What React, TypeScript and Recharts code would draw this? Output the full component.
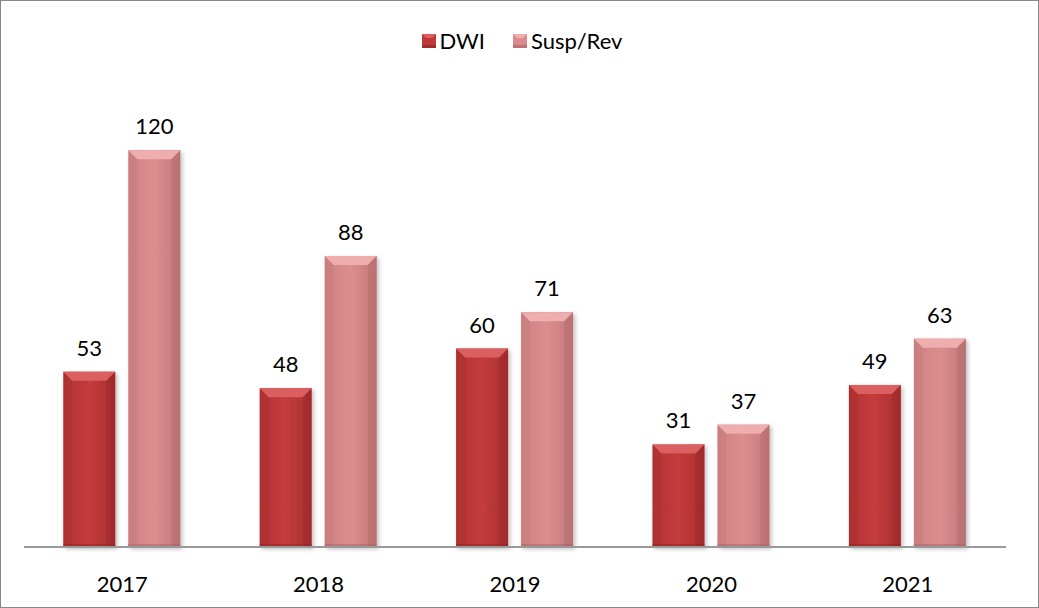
import React from "react";
import { BarChart, Bar, XAxis, YAxis, Legend, LabelList } from "recharts";

const years = ["2017", "2018", "2019", "2020", "2021"];
const dwi = [53, 48, 60, 31, 49];
const suspRev = [120, 88, 71, 37, 63];

const data = years.map((year, i) => ({ year, dwi: dwi[i], suspRev: suspRev[i] }));

const FONT = "Lato, 'Open Sans', sans-serif";

const PALETTE: Record<string, { base: string; light: string; dark: string; id: string }> = {
  dwi: { base: "#c0393a", light: "#dc5f5e", dark: "#8e2424", id: "gDwi" },
  suspRev: { base: "#d98a8c", light: "#eeaeae", dark: "#a86264", id: "gSusp" }
};

function BevelBar(props: any) {
  const { x, y, width, height, dataKey } = props;
  const c = PALETTE[dataKey];
  if (!c || height <= 0) return null;
  const b = Math.min(9, height / 2);
  return (
    <g filter="url(#barShadow)">
      <rect x={x} y={y} width={width} height={height} fill={`url(#${c.id})`} />
      <polygon
        points={`${x},${y} ${x + width},${y} ${x + width - b},${y + b} ${x + b},${y + b}`}
        fill={c.light}
      />
      <polygon
        points={`${x},${y} ${x + b},${y + b} ${x + b},${y + height} ${x},${y + height}`}
        fill={c.dark}
        opacity={0.12}
      />
      <polygon
        points={`${x + width},${y} ${x + width - b},${y + b} ${x + width - b},${y + height} ${x + width},${y + height}`}
        fill={c.dark}
        opacity={0.3}
      />
      <rect x={x} y={y + height - 3} width={width} height={3} fill={c.dark} opacity={0.5} />
    </g>
  );
}

function LegendContent() {
  const items = [
    { label: "DWI", c: PALETTE.dwi },
    { label: "Susp/Rev", c: PALETTE.suspRev }
  ];
  return (
    <div style={{ display: "flex", justifyContent: "center", gap: 28, fontFamily: FONT, fontSize: 22, paddingLeft: 14 }}>
      {items.map((it) => (
        <div key={it.label} style={{ display: "flex", alignItems: "center", gap: 4 }}>
          <svg width={14} height={14}>
            <rect x={0} y={0} width={14} height={14} fill={it.c.base} />
            <polygon points="0,0 14,0 10,4 4,4" fill={it.c.light} />
            <rect x={0} y={11} width={14} height={3} fill={it.c.dark} opacity={0.6} />
          </svg>
          <span style={{ color: "#000" }}>{it.label}</span>
        </div>
      ))}
    </div>
  );
}

export default function App() {
  return (
    <div
      style={{
        position: "fixed",
        left: 0,
        top: 0,
        width: 1039,
        height: 608,
        boxSizing: "border-box",
        border: "1px solid #878787",
        background: "#fff"
      }}
    >
      <div style={{ position: "absolute", left: -1, top: -1 }}>
        <BarChart
          width={1039}
          height={608}
          data={data}
          margin={{ top: 57, right: 33, bottom: 0, left: 24 }}
          barCategoryGap="20%"
          barGap={13}
        >
          <defs>
            <linearGradient id="gDwi" x1="0" y1="0" x2="1" y2="0">
              <stop offset="0%" stopColor="#b23234" />
              <stop offset="50%" stopColor="#c43c3c" />
              <stop offset="100%" stopColor="#a82e2f" />
            </linearGradient>
            <linearGradient id="gSusp" x1="0" y1="0" x2="1" y2="0">
              <stop offset="0%" stopColor="#cf8183" />
              <stop offset="50%" stopColor="#dc8e8f" />
              <stop offset="100%" stopColor="#c27577" />
            </linearGradient>
            <filter id="barShadow" x="-20%" y="-5%" width="140%" height="115%">
              <feDropShadow dx="2" dy="2" stdDeviation="2" floodColor="#000" floodOpacity="0.25" />
            </filter>
          </defs>
          <Legend verticalAlign="top" content={<LegendContent />} wrapperStyle={{ top: 27 }} />
          <XAxis
            dataKey="year"
            height={61}
            tickLine={false}
            axisLine={{ stroke: "#9a9a9a", strokeWidth: 2 }}
            tick={{ fontFamily: FONT, fontSize: 22, fill: "#000" }}
            tickMargin={23}
          />
          <YAxis hide domain={[0, 140]} />
          <Bar dataKey="dwi" name="DWI" shape={<BevelBar />} isAnimationActive={false}>
            <LabelList dataKey="dwi" position="top" offset={16} style={{ fontFamily: FONT, fontSize: 22, fill: "#000" }} />
          </Bar>
          <Bar dataKey="suspRev" name="Susp/Rev" shape={<BevelBar />} isAnimationActive={false}>
            <LabelList dataKey="suspRev" position="top" offset={16} style={{ fontFamily: FONT, fontSize: 22, fill: "#000" }} />
          </Bar>
        </BarChart>
      </div>
    </div>
  );
}
